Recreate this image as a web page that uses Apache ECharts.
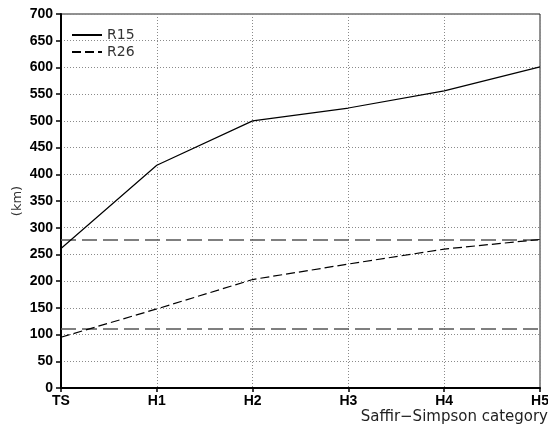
<!DOCTYPE html>
<html>
<head>
<meta charset="utf-8">
<script src="https://cdn.jsdelivr.net/npm/echarts@6/dist/echarts.min.js"></script>
<style>html,body{margin:0;padding:0;background:#fff}#c{width:548px;height:427px}</style>
</head>
<body>
<div id="c"></div>
<script>
const categories = ['TS', 'H1', 'H2', 'H3', 'H4', 'H5'];
const r15 = [261, 417, 500, 524, 556, 601];
const r26 = [95, 148, 203, 232, 260, 278];
const refLines = [278, 111];
const yTicks = { min: 0, max: 700, interval: 50 };

const chart = echarts.init(document.getElementById('c'), null, { renderer: 'canvas' });
const gridDot = { color: '#8a8a8a', width: 1, type: [1, 2] };
chart.setOption({
  animation: false,
  backgroundColor: '#fff',
  grid: { left: 61, right: 8, top: 14, bottom: 39, show: true, borderColor: '#222', borderWidth: 1, outerBoundsMode: 'none', containLabel: false },
  legend: {
    orient: 'vertical', left: 71, top: 28, padding: 0, itemWidth: 30, itemHeight: 10, itemGap: 3,
    itemStyle: { opacity: 0 },
    textStyle: { fontFamily: 'DejaVu Sans', fontSize: 14, color: '#333' },
    data: ['R15', 'R26']
  },
  xAxis: {
    type: 'category', data: categories, boundaryGap: false,
    axisLine: { lineStyle: { color: '#000', width: 2 } },
    axisTick: { length: 4, lineStyle: { color: '#000', width: 1.5 } },
    axisLabel: { color: '#000', fontFamily: 'Liberation Sans', fontWeight: 'bold', fontSize: 14, margin: 6 },
    splitLine: { show: true, lineStyle: gridDot },
    name: 'Saffir\u2212Simpson category', nameLocation: 'end', nameGap: 8, nameMoveOverlap: false,
    nameTextStyle: { fontFamily: 'DejaVu Sans', fontSize: 15, color: '#222', align: 'right', verticalAlign: 'top', padding: [22, 0, 0, 0] }
  },
  yAxis: {
    type: 'value', min: yTicks.min, max: yTicks.max, interval: yTicks.interval,
    axisLine: { show: true, lineStyle: { color: '#000', width: 2 } },
    axisTick: { show: true, length: 5, lineStyle: { color: '#000', width: 1.5 } },
    axisLabel: { color: '#000', fontFamily: 'Liberation Sans', fontWeight: 'bold', fontSize: 14, margin: 8 },
    splitLine: { show: true, lineStyle: gridDot },
    name: '(km)', nameLocation: 'middle', nameGap: 37, nameRotate: 90, nameMoveOverlap: false,
    nameTextStyle: { fontFamily: 'DejaVu Sans', fontSize: 13, color: '#333' }
  },
  series: [
    {
      name: 'R15', type: 'line', data: r15, symbol: 'none',
      lineStyle: { color: '#000', width: 1.2, type: 'solid' }, itemStyle: { color: '#000' }, z: 5
    },
    {
      name: 'R26', type: 'line', data: r26, symbol: 'none',
      lineStyle: { color: '#000', width: 1.2, type: [9, 4] }, itemStyle: { color: '#000' }, z: 5,
      markLine: {
        silent: true, symbol: 'none', label: { show: false },
        lineStyle: { color: '#555', width: 1.5, type: [15, 6] },
        data: refLines.map(v => ({ yAxis: v }))
      }
    }
  ]
});
</script>
</body>
</html>
